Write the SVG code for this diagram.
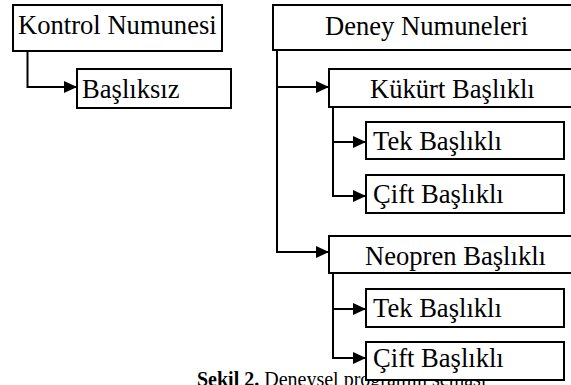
<svg xmlns="http://www.w3.org/2000/svg" width="571" height="385" viewBox="0 0 571 385">
  <style>
    .box { fill: #ffffff; stroke: #000000; stroke-width: 2; }
    .lbl { font-family: "Liberation Serif", "Times New Roman", serif; font-size: 26.6px; fill: #000000; }
    .cap { font-family: "Liberation Serif", "Times New Roman", serif; font-size: 20px; fill: #000000; }
    .wire { fill: none; stroke: #000000; stroke-width: 2; }
  </style>
  <defs>
    <marker id="arrow" markerUnits="userSpaceOnUse" markerWidth="14" markerHeight="14" refX="13" refY="6" orient="auto">
      <path d="M0,0 L13,6 L0,12 Z" fill="#000000"/>
    </marker>
  </defs>
  <rect width="571" height="385" fill="#ffffff"/>

  <!-- caption (partly covered by the last box) -->
  <text class="cap" x="197" y="386"><tspan font-weight="bold">Şekil 2.</tspan> Deneysel programın şeması</text>

  <!-- connectors -->
  <g id="connectors">
    <path class="wire" d="M27.5,51 V87 H77" marker-end="url(#arrow)"/>
    <path class="wire" d="M277,50 V87 H329" marker-end="url(#arrow)"/>
    <path class="wire" d="M277,87 V252 H329" marker-end="url(#arrow)"/>
    <path class="wire" d="M333,107 V142 H366" marker-end="url(#arrow)"/>
    <path class="wire" d="M333,142 V196 H366" marker-end="url(#arrow)"/>
    <path class="wire" d="M333,273 V309 H366" marker-end="url(#arrow)"/>
    <path class="wire" d="M333,309 V358 H366" marker-end="url(#arrow)"/>
  </g>

  <g id="kontrol">
    <rect class="box" x="13" y="5" width="209" height="46"/>
    <text class="lbl" x="18" y="34">Kontrol Numunesi</text>
  </g>
  <g id="basliksiz">
    <rect class="box" x="77" y="69" width="154" height="39"/>
    <text class="lbl" x="82" y="98">Başlıksız</text>
  </g>
  <g id="deney">
    <rect class="box" x="273" y="5" width="310" height="45"/>
    <text class="lbl" x="325" y="35">Deney Numuneleri</text>
  </g>
  <g id="kukurt">
    <rect class="box" x="329" y="69" width="254" height="38"/>
    <text class="lbl" x="370" y="98">Kükürt Başlıklı</text>
  </g>
  <g id="kukurt-tek">
    <rect class="box" x="366" y="122" width="198" height="37"/>
    <text class="lbl" x="373" y="150">Tek Başlıklı</text>
  </g>
  <g id="kukurt-cift">
    <rect class="box" x="366" y="175" width="198" height="38"/>
    <text class="lbl" x="373" y="203">Çift Başlıklı</text>
  </g>
  <g id="neopren">
    <rect class="box" x="329" y="236" width="254" height="37"/>
    <text class="lbl" x="365" y="265">Neopren Başlıklı</text>
  </g>
  <g id="neopren-tek">
    <rect class="box" x="366" y="289" width="198" height="38"/>
    <text class="lbl" x="373" y="317">Tek Başlıklı</text>
  </g>
  <g id="neopren-cift">
    <rect class="box" x="366" y="342" width="198" height="38"/>
    <text class="lbl" x="373" y="367">Çift Başlıklı</text>
  </g>
</svg>
